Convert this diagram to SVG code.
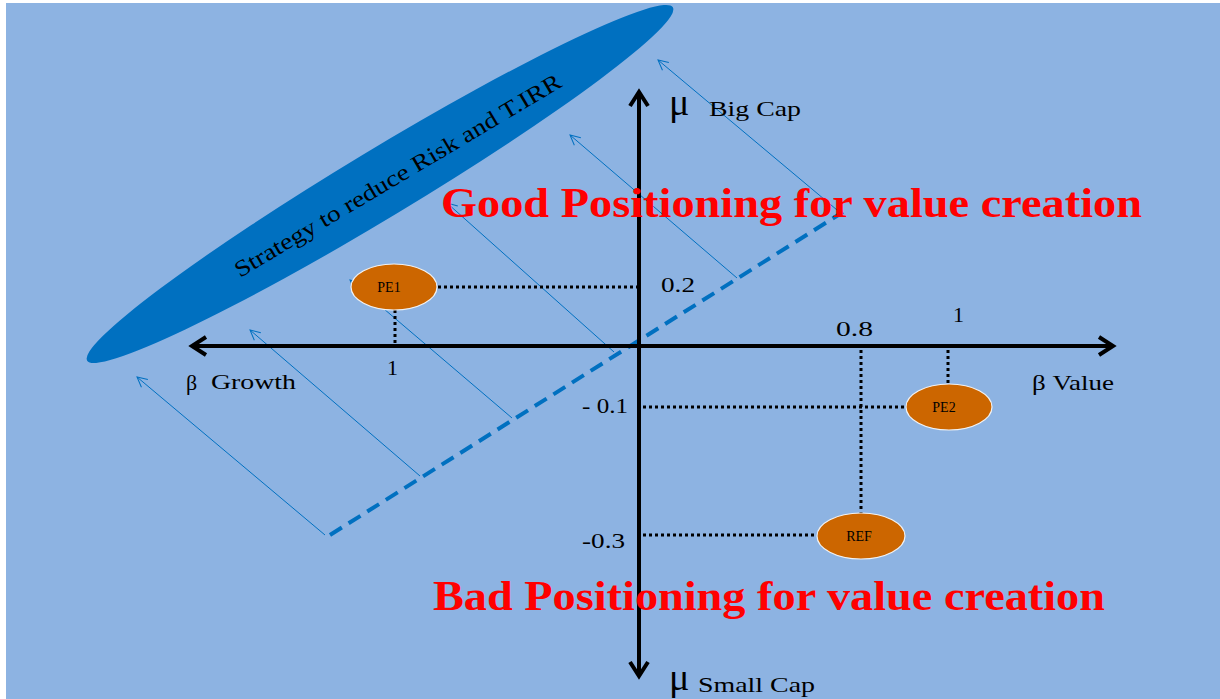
<svg xmlns="http://www.w3.org/2000/svg" width="1220" height="699" viewBox="0 0 1220 699">
<defs>
<style>
.t{font-family:"Liberation Serif","Times New Roman",serif;fill:#000}
.big{font-family:"Liberation Serif","Times New Roman",serif;font-weight:bold;fill:#FF0000;font-size:43px}
.axis{stroke:#000;stroke-width:4;fill:none}
.dot{stroke:#000;stroke-width:3;stroke-dasharray:3 3;fill:none}
.thin{stroke:#0070C0;stroke-width:1;fill:none;marker-end:url(#oa)}
.node{fill:#CC6600;stroke:#F2F2F2;stroke-width:1.2}
</style>
<marker id="oa" viewBox="0 0 12 12" refX="11" refY="6" markerWidth="12" markerHeight="12" markerUnits="userSpaceOnUse" orient="auto">
<path d="M1,1 L11,6 L1,11" fill="none" stroke="#0070C0" stroke-width="1"/>
</marker>
</defs>
<rect x="6" y="3" width="1214" height="696" fill="#8DB3E2"/>

<g id="strategy">
<ellipse cx="380" cy="184" rx="342" ry="34" transform="rotate(-31.1 380 184)" fill="#0070C0"/>
<text class="t" x="398" y="183" font-size="23" text-anchor="middle" textLength="376" lengthAdjust="spacingAndGlyphs" transform="rotate(-30.7 398 176)">Strategy to reduce Risk and T.IRR</text>
</g>

<g id="connectors">
<line x1="330" y1="535" x2="843" y2="212" stroke="#0070C0" stroke-width="4" stroke-dasharray="14 8"/>
<line class="thin" x1="325" y1="535" x2="137" y2="377"/>
<line class="thin" x1="420" y1="476" x2="250" y2="330"/>
<line class="thin" x1="512" y1="418" x2="350" y2="280"/>
<line class="thin" x1="614" y1="352" x2="447" y2="203"/>
<line class="thin" x1="737" y1="278" x2="570" y2="135"/>
<line class="thin" x1="843" y1="215" x2="658" y2="60"/>
<path class="dot" d="M438,287 H637 M395,310 V344 M948,350 V383 M643,407 H905 M861,350 V517 M643,535 H817"/>
</g>

<g id="axes">
<line class="axis" x1="192" y1="346" x2="1113" y2="346"/>
<line class="axis" x1="639" y1="92" x2="639" y2="676"/>
<polyline class="axis" points="206,337 192,346 206,355"/>
<polyline class="axis" points="1099,337 1113,346 1099,355"/>
<polyline class="axis" points="630,106 639,92 648,106"/>
<polyline class="axis" points="630,662 639,676 648,662"/>
</g>

<g id="labels">
<text class="t" x="669" y="115" font-size="38">μ</text>
<text class="t" x="709" y="116" font-size="21" textLength="92" lengthAdjust="spacingAndGlyphs">Big Cap</text>
<text class="t" x="661" y="292" font-size="22" textLength="34" lengthAdjust="spacingAndGlyphs">0.2</text>
<text class="t" x="836" y="336" font-size="22" textLength="37" lengthAdjust="spacingAndGlyphs">0.8</text>
<text class="t" x="953" y="322" font-size="22">1</text>
<text class="t" x="387" y="375" font-size="22">1</text>
<text class="t" x="186" y="390" font-size="22">β</text>
<text class="t" x="211" y="389" font-size="22" textLength="85" lengthAdjust="spacingAndGlyphs">Growth</text>
<text class="t" x="1032" y="390" font-size="22" textLength="82" lengthAdjust="spacingAndGlyphs">β Value</text>
<text class="t" x="582" y="413" font-size="22" textLength="46" lengthAdjust="spacingAndGlyphs">- 0.1</text>
<text class="t" x="582" y="548" font-size="22" textLength="43" lengthAdjust="spacingAndGlyphs">-0.3</text>
<text class="t" x="669" y="690" font-size="38">μ</text>
<text class="t" x="698" y="692" font-size="21" textLength="117" lengthAdjust="spacingAndGlyphs">Small Cap</text>
<text class="big" x="441" y="217" textLength="701" lengthAdjust="spacingAndGlyphs">Good Positioning for value creation</text>
<text class="big" x="433" y="610" textLength="672" lengthAdjust="spacingAndGlyphs">Bad Positioning for value creation</text>
</g>

<g id="PE1">
<ellipse class="node" cx="394" cy="287" rx="43" ry="23"/>
<text class="t" x="389" y="292" font-size="14" text-anchor="middle">PE1</text>
</g>
<g id="PE2">
<ellipse class="node" cx="949" cy="407" rx="43" ry="23"/>
<text class="t" x="944" y="412" font-size="14" text-anchor="middle">PE2</text>
</g>
<g id="REF">
<ellipse class="node" cx="861" cy="536" rx="44" ry="23"/>
<text class="t" x="859" y="541" font-size="14" text-anchor="middle">REF</text>
</g>
</svg>
